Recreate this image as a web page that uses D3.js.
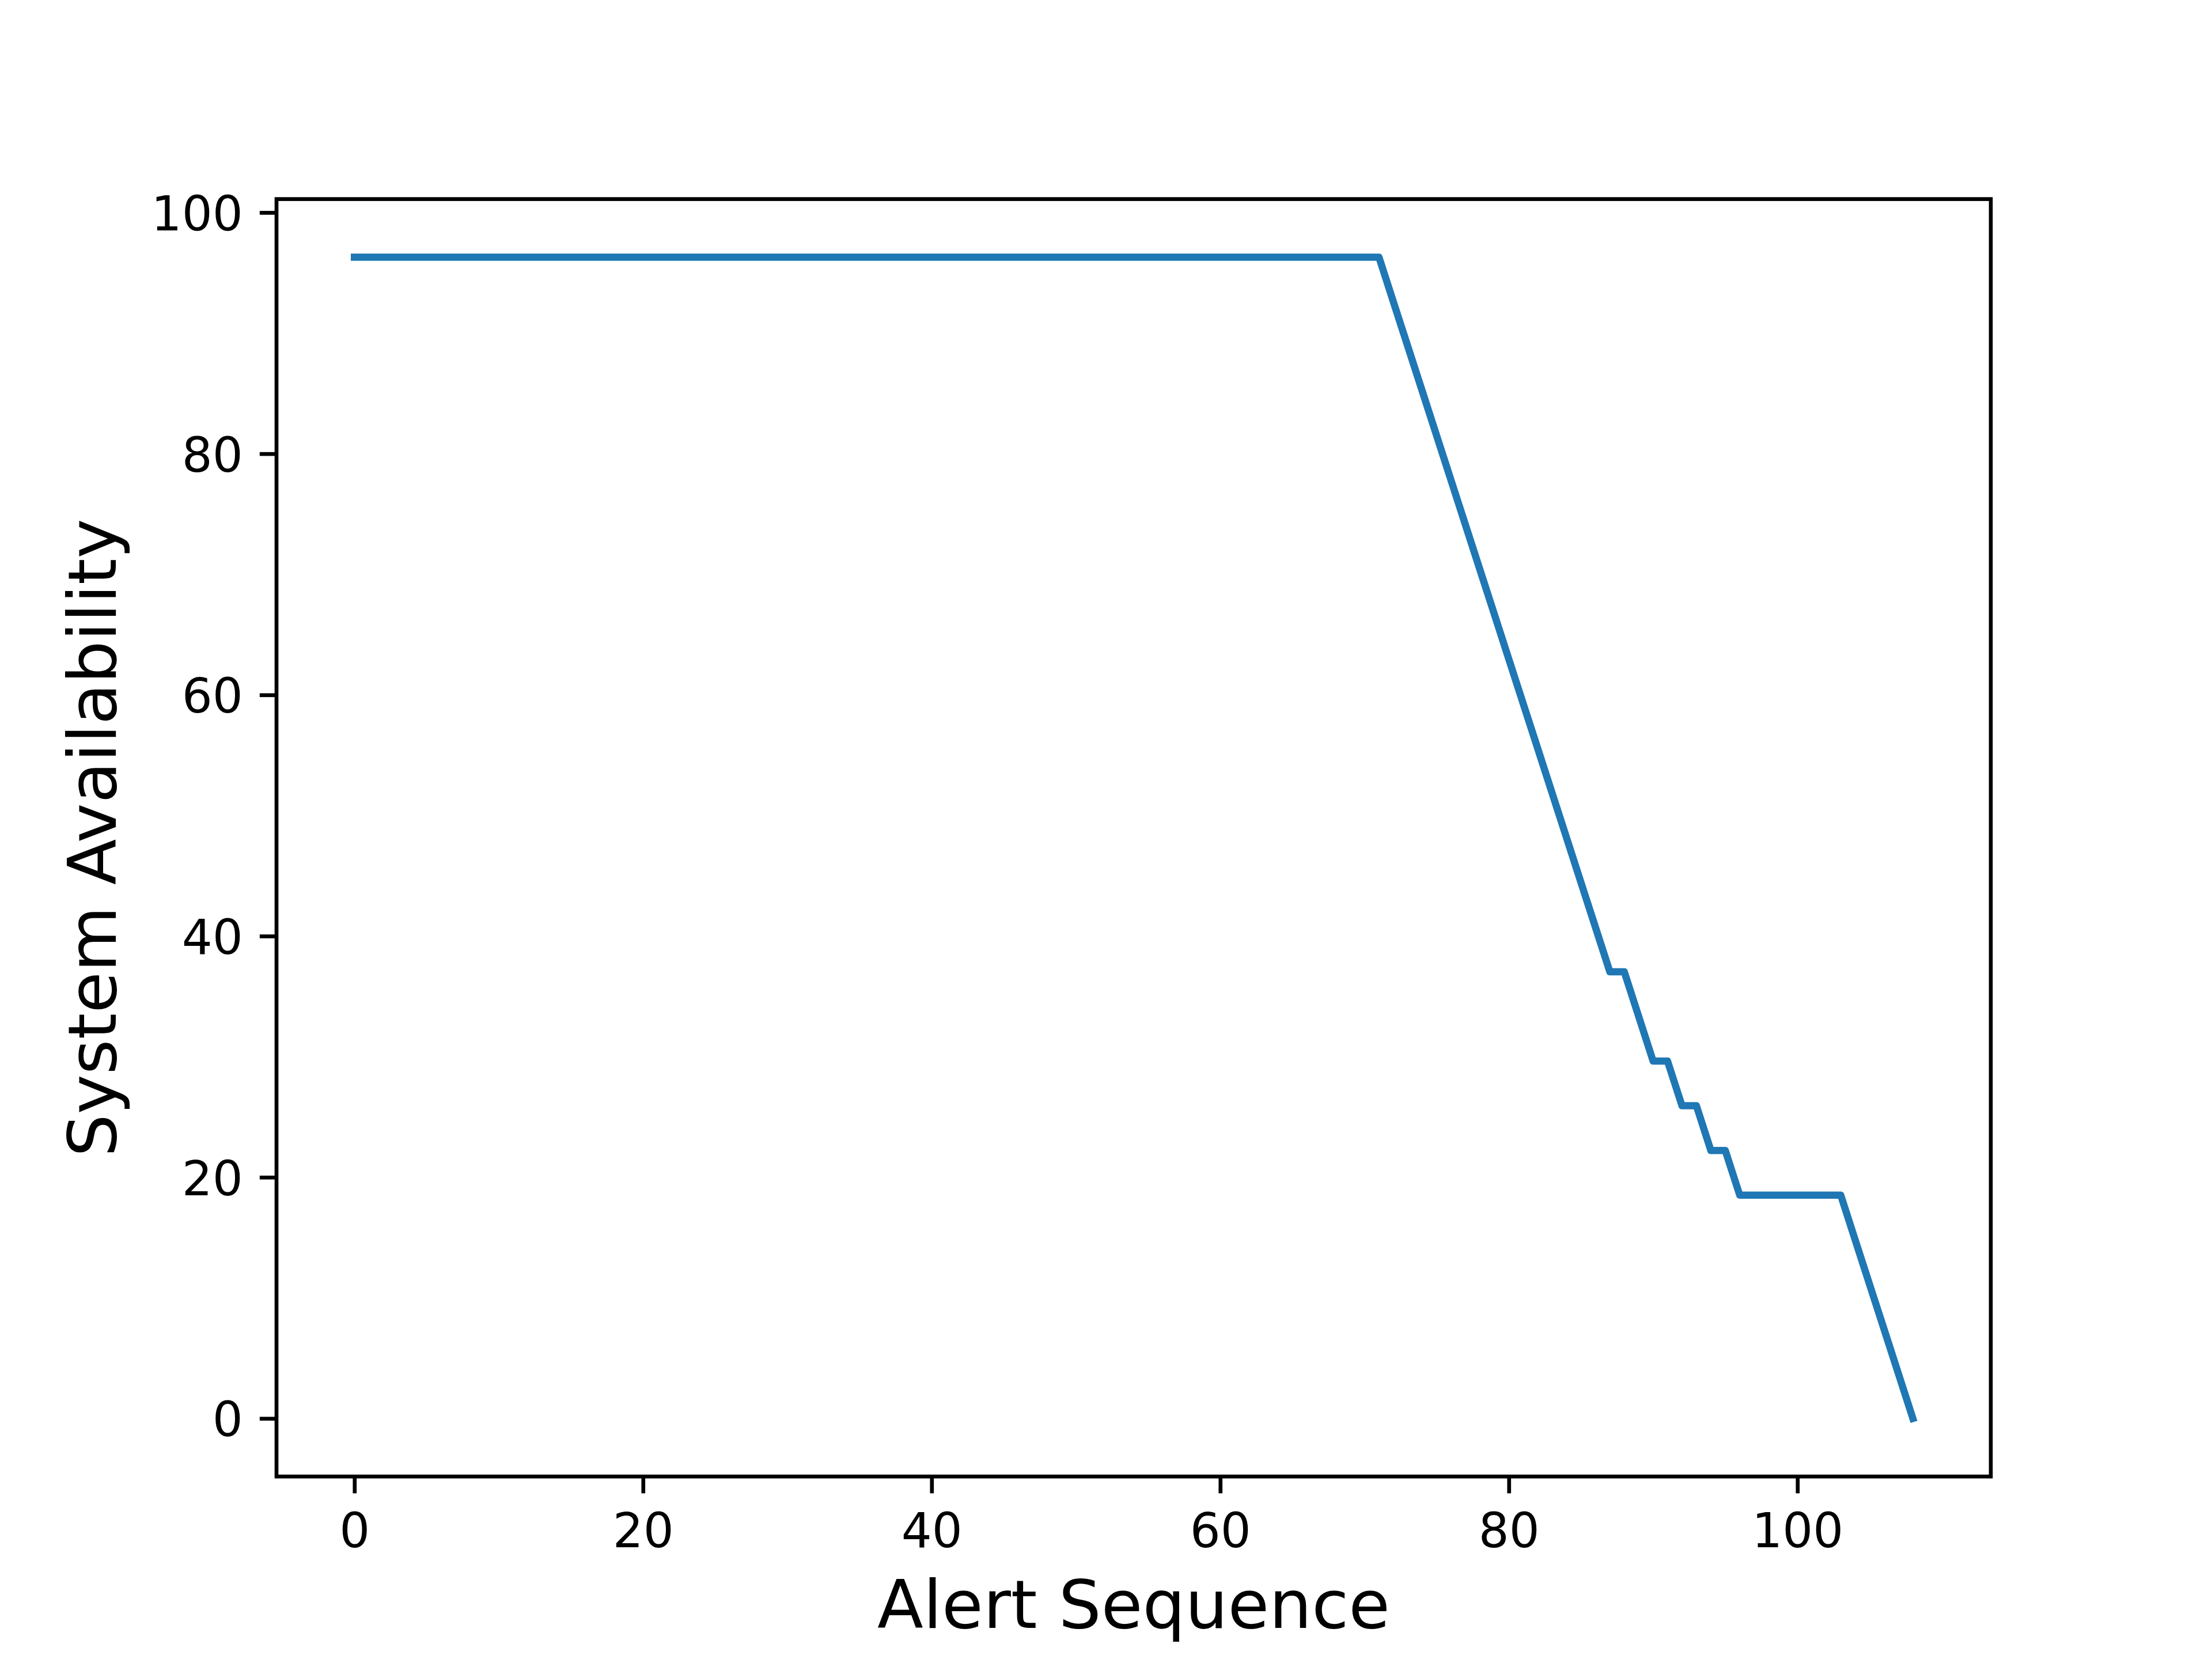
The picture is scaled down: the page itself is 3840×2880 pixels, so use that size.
<!DOCTYPE html>
<html>
<head>
<meta charset="utf-8">
<script src="https://cdn.jsdelivr.net/npm/d3@7"></script>
<style>
  html, body { margin: 0; padding: 0; background: #ffffff; }
  svg { display: block; }
  text { font-family: "DejaVu Sans", sans-serif; fill: #000; }
</style>
</head>
<body>
<script>
// ---- data ----
const alertSequence = [
  0, 1, 2, 3, 4, 5, 6, 7, 8, 9,
  10, 11, 12, 13, 14, 15, 16, 17, 18, 19,
  20, 21, 22, 23, 24, 25, 26, 27, 28, 29,
  30, 31, 32, 33, 34, 35, 36, 37, 38, 39,
  40, 41, 42, 43, 44, 45, 46, 47, 48, 49,
  50, 51, 52, 53, 54, 55, 56, 57, 58, 59,
  60, 61, 62, 63, 64, 65, 66, 67, 68, 69,
  70, 71, 72, 73, 74, 75, 76, 77, 78, 79,
  80, 81, 82, 83, 84, 85, 86, 87, 88, 89,
  90, 91, 92, 93, 94, 95, 96, 97, 98, 99,
  100, 101, 102, 103, 104, 105, 106, 107, 108
];
const systemAvailability = [
  96.3, 96.3, 96.3, 96.3, 96.3, 96.3, 96.3, 96.3, 96.3, 96.3,
  96.3, 96.3, 96.3, 96.3, 96.3, 96.3, 96.3, 96.3, 96.3, 96.3,
  96.3, 96.3, 96.3, 96.3, 96.3, 96.3, 96.3, 96.3, 96.3, 96.3,
  96.3, 96.3, 96.3, 96.3, 96.3, 96.3, 96.3, 96.3, 96.3, 96.3,
  96.3, 96.3, 96.3, 96.3, 96.3, 96.3, 96.3, 96.3, 96.3, 96.3,
  96.3, 96.3, 96.3, 96.3, 96.3, 96.3, 96.3, 96.3, 96.3, 96.3,
  96.3, 96.3, 96.3, 96.3, 96.3, 96.3, 96.3, 96.3, 96.3, 96.3,
  96.3, 96.3, 92.59, 88.89, 85.19, 81.48, 77.78, 74.07, 70.37, 66.67,
  62.96, 59.26, 55.56, 51.85, 48.15, 44.44, 40.74, 37.04, 37.04, 33.33,
  29.63, 29.63, 25.93, 25.93, 22.22, 22.22, 18.52, 18.52, 18.52, 18.52,
  18.52, 18.52, 18.52, 18.52, 14.81, 11.11, 7.41, 3.70, 0
];
const xTicks = [0, 20, 40, 60, 80, 100];
const yTicks = [0, 20, 40, 60, 80, 100];
const xLabel = "Alert Sequence";
const yLabel = "System Availability";

// ---- layout ----
const W = 3840, H = 2880;
const mLeft = 480, mRight = 3456, mTop = 345.6, mBottom = 2563.2;
const pt = 600 / 72;
const spineW = 0.8 * pt, tickLen = 3.5 * pt, tickPad = 3.5 * pt;
const tickFont = 10 * pt, labelFont = 14 * pt;

const data = alertSequence.map((xv, i) => ({ x: xv, y: systemAvailability[i] }));

const xMin = d3.min(alertSequence), xMax = d3.max(alertSequence);
const yMin = d3.min(systemAvailability), yMax = d3.max(systemAvailability);
const xm = (xMax - xMin) * 0.05, ym = (yMax - yMin) * 0.05;

const xScale = d3.scaleLinear().domain([xMin - xm, xMax + xm]).range([mLeft, mRight]);
const yScale = d3.scaleLinear().domain([yMin - ym, yMax + ym]).range([mBottom, mTop]);

const svg = d3.select("body").append("svg")
  .attr("width", W).attr("height", H).attr("viewBox", `0 0 ${W} ${H}`);
svg.append("rect").attr("width", W).attr("height", H).attr("fill", "#fff");

// line
svg.append("path")
  .datum(data)
  .attr("fill", "none")
  .attr("stroke", "#1f77b4")
  .attr("stroke-width", 1.5 * pt)
  .attr("stroke-linejoin", "round")
  .attr("stroke-linecap", "square")
  .attr("d", d3.line().x(d => xScale(d.x)).y(d => yScale(d.y)));

// spines
svg.append("rect")
  .attr("x", mLeft).attr("y", mTop)
  .attr("width", mRight - mLeft).attr("height", mBottom - mTop)
  .attr("fill", "none").attr("stroke", "#000")
  .attr("stroke-width", spineW).attr("stroke-linejoin", "miter");

// x axis
const gx = svg.append("g").attr("transform", `translate(0,${mBottom})`)
  .call(d3.axisBottom(xScale).tickValues(xTicks).tickFormat(d3.format("d"))
    .tickSize(tickLen).tickPadding(tickPad).tickSizeOuter(0));
gx.select(".domain").remove();
gx.selectAll(".tick line").attr("stroke", "#000").attr("stroke-width", spineW);
gx.selectAll(".tick text")
  .attr("font-family", "DejaVu Sans").attr("font-size", tickFont)
  .attr("fill", "#000").attr("dy", "0.77em");

// y axis
const gy = svg.append("g").attr("transform", `translate(${mLeft},0)`)
  .call(d3.axisLeft(yScale).tickValues(yTicks).tickFormat(d3.format("d"))
    .tickSize(tickLen).tickPadding(tickPad).tickSizeOuter(0));
gy.select(".domain").remove();
gy.selectAll(".tick line").attr("stroke", "#000").attr("stroke-width", spineW);
gy.selectAll(".tick text")
  .attr("font-family", "DejaVu Sans").attr("font-size", tickFont)
  .attr("fill", "#000").attr("dy", "0.365em");

// axis labels
svg.append("text")
  .attr("x", (mLeft + mRight) / 2).attr("y", 2826)
  .attr("text-anchor", "middle")
  .attr("font-size", labelFont)
  .text(xLabel);

svg.append("text")
  .attr("transform", `translate(201,${(mTop + mBottom) / 2}) rotate(-90)`)
  .attr("text-anchor", "middle")
  .attr("font-size", labelFont)
  .text(yLabel);
</script>
</body>
</html>
